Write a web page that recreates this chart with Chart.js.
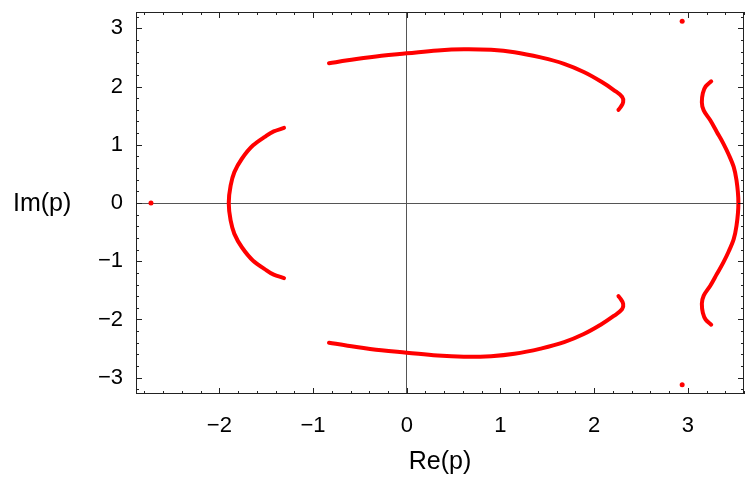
<!DOCTYPE html>
<html>
<head>
    <title>Im(p) vs Re(p)</title>
    <script src="https://cdn.jsdelivr.net/npm/chart.js"></script>
    <style>
        body { margin: 0; background: #fff; }
        #wrap { width: 748px; height: 482px; }
    </style>
</head>
<body>

<div id="wrap"><canvas id="myChart" width="748" height="482"></canvas></div>

<script>
    // branches of the curve (Re, Im)
    var leftArcRe  = [-1.31, -1.42, -1.52, -1.64, -1.76, -1.84, -1.88, -1.90, -1.88, -1.84, -1.76, -1.64, -1.52, -1.42, -1.31];
    var leftArcIm  = [ 1.29,  1.23,  1.13,  0.99,  0.76,  0.53,  0.30,  0.00, -0.30, -0.53, -0.76, -0.99, -1.13, -1.23, -1.29];

    var upperRe = [-0.83, -0.63, -0.27, 0.00, 0.33, 0.61, 0.90, 1.15, 1.43, 1.68, 1.89, 2.07, 2.21, 2.30, 2.31, 2.28, 2.26];
    var upperIm = [ 2.40,  2.45,  2.53, 2.57, 2.62, 2.64, 2.63, 2.59, 2.50, 2.39, 2.25, 2.09, 1.94, 1.82, 1.73, 1.64, 1.60];

    var lowerRe = [-0.83, -0.63, -0.27, 0.00, 0.33, 0.61, 0.90, 1.15, 1.43, 1.68, 1.89, 2.07, 2.21, 2.30, 2.31, 2.28, 2.26];
    var lowerIm = [-2.40, -2.45, -2.53, -2.57, -2.62, -2.64, -2.63, -2.59, -2.50, -2.39, -2.25, -2.09, -1.94, -1.82, -1.73, -1.64, -1.60];

    var rightRe = [3.25, 3.19, 3.16, 3.15, 3.17, 3.24, 3.31, 3.38, 3.44, 3.49, 3.52, 3.54,
                   3.52, 3.49, 3.44, 3.38, 3.31, 3.24, 3.17, 3.15, 3.16, 3.19, 3.25];
    var rightIm = [2.09, 2.00, 1.88, 1.73, 1.59, 1.42, 1.22, 1.02, 0.82, 0.62, 0.39, 0.00,
                   -0.39, -0.62, -0.82, -1.02, -1.22, -1.42, -1.59, -1.73, -1.88, -2.00, -2.09];

    // isolated points
    var dotRe = [-2.73, 2.94, 2.94];
    var dotIm = [ 0.00, 3.12, -3.12];

    var xMin = -2.89, xMax = 3.6;
    var yMin = -3.28, yMax = 3.28;

    var red = 'rgb(255,0,0)';
    var fontFamily = '"Liberation Sans", Arial, sans-serif';

    function pairs(xs, ys) {
        return xs.map(function (x, i) { return { x: x, y: ys[i] }; });
    }

    // vertical branches are smoothed along the Im axis
    function curve(xs, ys, vertical) {
        var ds = {
            data: pairs(xs, ys),
            showLine: true,
            borderColor: red,
            borderWidth: 4,
            borderCapStyle: 'round',
            borderJoinStyle: 'round',
            tension: 0.4,
            pointRadius: 0
        };
        if (vertical) {
            ds.indexAxis = 'y';
            ds.cubicInterpolationMode = 'monotone';
        }
        return ds;
    }

    function minus(v) {
        return v < 0 ? '\u2212' + Math.abs(v) : '' + v;
    }

    // frame, inside ticks and the horizontal y title
    var framePlugin = {
        id: 'frame',
        afterDraw(chart) {
            var ctx = chart.ctx;
            var a = chart.chartArea;
            var xs = chart.scales.x, ys = chart.scales.y;
            ctx.save();
            ctx.strokeStyle = '#222';
            ctx.lineWidth = 1;
            ctx.strokeRect(a.left + 0.5, a.top + 0.5, a.right - a.left - 1, a.bottom - a.top - 1);

            ctx.beginPath();
            for (var i = Math.ceil(xMin / 0.2); i * 0.2 <= xMax; i++) {
                var px = Math.round(xs.getPixelForValue(i * 0.2)) + 0.5;
                var len = (i % 5 === 0) ? 6 : 3;
                ctx.moveTo(px, a.bottom); ctx.lineTo(px, a.bottom - len);
                ctx.moveTo(px, a.top); ctx.lineTo(px, a.top + len);
            }
            for (var j = Math.ceil(yMin / 0.2); j * 0.2 <= yMax; j++) {
                var py = Math.round(ys.getPixelForValue(j * 0.2)) + 0.5;
                var len2 = (j % 5 === 0) ? 6 : 3;
                ctx.moveTo(a.left, py); ctx.lineTo(a.left + len2, py);
                ctx.moveTo(a.right, py); ctx.lineTo(a.right - len2, py);
            }
            ctx.stroke();

            ctx.fillStyle = '#000';
            ctx.font = '25px ' + fontFamily;
            ctx.textAlign = 'left';
            ctx.textBaseline = 'middle';
            ctx.fillText('Im(p)', 13, ys.getPixelForValue(0) + 1);
            ctx.restore();
        }
    };

    var ctx = document.getElementById('myChart').getContext('2d');

    var myChart = new Chart(ctx, {
        type: 'scatter',
        data: {
            datasets: [
                curve(leftArcRe, leftArcIm, true),
                curve(upperRe, upperIm, false),
                curve(lowerRe, lowerIm, false),
                curve(rightRe, rightIm, true),
                {
                    data: pairs(dotRe, dotIm),
                    showLine: false,
                    pointRadius: 2.5,
                    pointBackgroundColor: red,
                    pointBorderWidth: 0
                }
            ]
        },
        options: {
            responsive: false,
            animation: false,
            layout: { padding: { left: 0, right: 1, top: 12, bottom: 0 } },
            plugins: {
                legend: { display: false },
                tooltip: { enabled: false }
            },
            scales: {
                x: {
                    type: 'linear',
                    min: xMin,
                    max: xMax,
                    afterFit: function (scale) {
                        scale.height = 88;
                        scale.paddingLeft = 0;
                        scale.paddingRight = 0;
                    },
                    border: { display: false },
                    grid: {
                        drawTicks: false,
                        color: function (c) { return c.tick && c.tick.value === 0 ? '#555' : 'transparent'; }
                    },
                    ticks: {
                        stepSize: 1,
                        includeBounds: false,
                        padding: 19,
                        color: '#000',
                        font: { size: 22, family: fontFamily },
                        callback: minus
                    },
                    title: {
                        display: true,
                        text: 'Re(p)',
                        color: '#000',
                        font: { size: 25, family: fontFamily },
                        padding: { top: 0, bottom: 5 }
                    }
                },
                y: {
                    type: 'linear',
                    min: yMin,
                    max: yMax,
                    afterFit: function (scale) {
                        scale.width = 136;
                        scale.paddingTop = 0;
                        scale.paddingBottom = 0;
                    },
                    border: { display: false },
                    grid: {
                        drawTicks: false,
                        color: function (c) { return c.tick && c.tick.value === 0 ? '#555' : 'transparent'; }
                    },
                    ticks: {
                        stepSize: 1,
                        includeBounds: false,
                        padding: 13,
                        color: '#000',
                        font: { size: 22, family: fontFamily },
                        callback: minus
                    }
                }
            }
        },
        plugins: [framePlugin]
    });
</script>

</body>
</html>
